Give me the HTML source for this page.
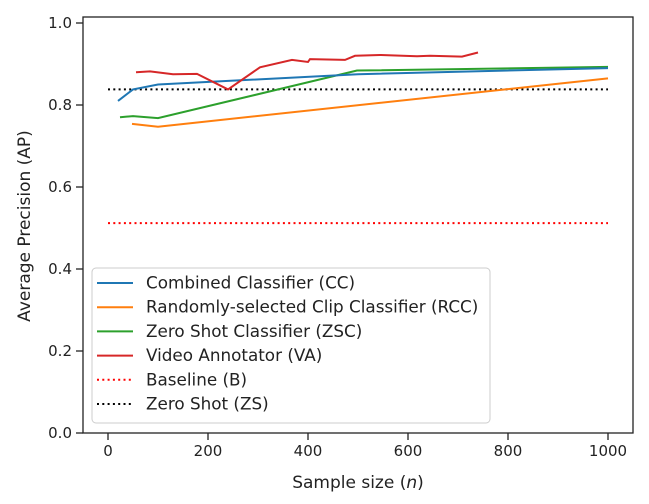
<!DOCTYPE html>
<html><head><meta charset="utf-8"><style>
body{margin:0;background:#fff}
svg text{font-family:"DejaVu Sans","Liberation Sans",sans-serif;fill:#222}
</style></head><body>
<svg id="chart" width="649" height="499">
<g id="plot"></g>
</svg>
<script>
const ccX=[20,50,100,500,1000];
const ccY=[0.810,0.838,0.850,0.875,0.890];
const rccX=[48,100,1000];
const rccY=[0.754,0.747,0.865];
const zscX=[24,50,100,498,1000];
const zscY=[0.770,0.773,0.768,0.884,0.893];
const vaX=[56,84,130,178,240,304,368,400,404,474,494,544,618,644,708,740];
const vaY=[0.880,0.882,0.875,0.876,0.838,0.892,0.910,0.905,0.912,0.910,0.920,0.922,0.919,0.920,0.918,0.928];
const baselineY=0.512;
const zeroShotY=0.838;
const xTicks=[0,200,400,600,800,1000];
const yTicks=[0.0,0.2,0.4,0.6,0.8,1.0];
const L=83,R=633,T=17,B=433;
const sx=v=>108+v*0.5;
const sy=v=>433-v*410;
const NS="http://www.w3.org/2000/svg";
const g=document.getElementById('plot');
function mk(t,a){const e=document.createElementNS(NS,t);for(const k in a)e.setAttribute(k,a[k]);g.appendChild(e);return e;}
function line(xs,ys,c,name){
  const p=mk('polyline',{points:xs.map((x,i)=>sx(x)+','+sy(ys[i])).join(' '),fill:'none',stroke:c,'stroke-width':2});
  
  
}
function hline(y,c,name){
  const p=mk('line',{x1:sx(0),x2:sx(1000),y1:sy(y),y2:sy(y),stroke:c,'stroke-width':2,'stroke-dasharray':'2,3.3'});
  
  
}
hline(baselineY,'#ff0000','baseline-line');
hline(zeroShotY,'#000','zero-shot-line');
line(rccX,rccY,'#ff7f0e','rcc-line');
line(zscX,zscY,'#2ca02c','zsc-line');
line(ccX,ccY,'#1f77b4','cc-line');
line(vaX,vaY,'#d62728','va-line');
const fr=mk('rect',{x:L,y:T,width:R-L,height:B-T,fill:'none',stroke:'#222','stroke-width':1.3});


xTicks.forEach(v=>{
  mk('line',{x1:sx(v),x2:sx(v),y1:B,y2:B+7,stroke:'#222','stroke-width':1.3});
  const t=mk('text',{x:sx(v),y:B+23,'text-anchor':'middle','font-size':15});t.textContent=v;
  
  
});
yTicks.forEach(v=>{
  mk('line',{x1:L-7,x2:L,y1:sy(v),y2:sy(v),stroke:'#222','stroke-width':1.3});
  const t=mk('text',{x:L-11,y:sy(v)+5,'text-anchor':'end','font-size':15});t.textContent=v.toFixed(1);
  
  
});
const xt=mk('text',{x:358,y:488,'text-anchor':'middle','font-size':17});
xt.innerHTML='Sample size (<tspan font-style="italic">n</tspan>)';


const yt=mk('text',{x:0,y:0,'text-anchor':'middle','font-size':17,transform:'translate(30,226) rotate(-90)'});
yt.textContent='Average Precision (AP)';


const lg=mk('rect',{x:92,y:268,width:398,height:155,rx:4,fill:'#fff','fill-opacity':0.85,stroke:'#ccc'});


const entries=[['Combined Classifier (CC)','#1f77b4',0],['Randomly-selected Clip Classifier (RCC)','#ff7f0e',0],['Zero Shot Classifier (ZSC)','#2ca02c',0],['Video Annotator (VA)','#d62728',0],['Baseline (B)','#ff0000',1],['Zero Shot (ZS)','#000',1]];
entries.forEach((e,i)=>{
  const y=283+i*24.2;
  const l=mk('line',{x1:97,x2:133,y1:y,y2:y,stroke:e[1],'stroke-width':2});
  if(e[2])l.setAttribute('stroke-dasharray','2,3.3');
  const t=mk('text',{x:146,y:y+5.5,'font-size':16.8});t.textContent=e[0];
  
  
});
</script>
</body></html>
